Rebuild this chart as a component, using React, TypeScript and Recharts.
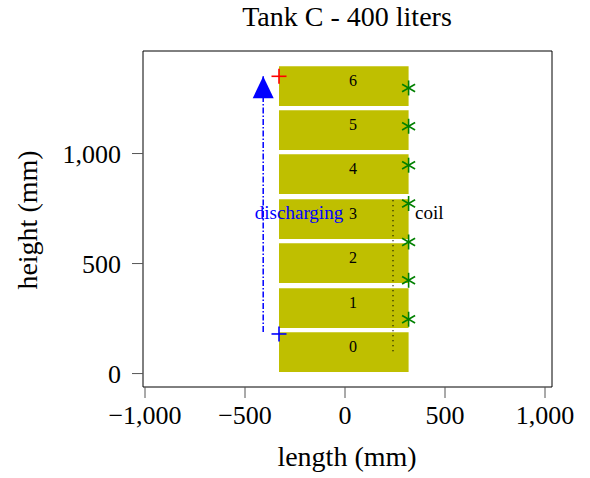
import React from 'react';
import { ComposedChart, XAxis, YAxis, ReferenceArea, ReferenceLine, Scatter, Line, Label } from 'recharts';

const FONT = '"Liberation Serif", "DejaVu Serif", serif';

// tank layers (mm)
const layerNames = ['0', '1', '2', '3', '4', '5', '6'];
const layerBottom = [7, 207, 412, 612, 816, 1016, 1216];
const layerTop = [188, 388, 592, 792, 997, 1197, 1397];
const layerLeft = -330;
const layerRight = 318;
const layerLabelX = 40;

// temperature sensors along the wall
const sensorX = 318;
const sensorY = [247, 424, 598, 773, 947, 1124, 1298];

// coil
const coilX = 240;
const coilY = [101, 806];

// ports
const outletPort = { x: -330, y: 1351 };
const inletPort = { x: -330, y: 180 };

// discharging arrow
const dischargeX = -409;
const dischargeY = [189, 1351];

// annotations
const notes = [
  { x: -230, y: 728, text: 'discharging', color: '#0000ff', anchor: 'middle' },
  { x: 350, y: 728, text: 'coil', color: '#000000', anchor: 'start' },
];

const xTicks = [-1000, -500, 0, 500, 1000];
const yTicks = [0, 500, 1000];
const xDomain = [-1010, 1035];
const yDomain = [-61, 1466];

const fmt = (v: number) => (v < 0 ? '\u2212' : '') + Math.abs(v).toLocaleString('en-US');

const layerLabels = layerNames.map((name, i) => ({
  x: layerLabelX,
  y: (layerBottom[i] + layerTop[i]) / 2,
  name,
}));
const sensors = sensorY.map(y => ({ x: sensorX, y }));
const dischargeLine = dischargeY.map(y => ({ x: dischargeX, y }));
const arrowTip = [{ x: dischargeX, y: dischargeY[1] }];

function Asterisk(props: any) {
  const { cx, cy } = props;
  const r = 7.5;
  const dx = r * Math.cos(Math.PI / 6);
  const dy = r * Math.sin(Math.PI / 6);
  return (
    <g stroke="#008000" strokeWidth={1.6}>
      <line x1={cx} y1={cy - r} x2={cx} y2={cy + r} />
      <line x1={cx - dx} y1={cy - dy} x2={cx + dx} y2={cy + dy} />
      <line x1={cx - dx} y1={cy + dy} x2={cx + dx} y2={cy - dy} />
    </g>
  );
}

const plus = (color: string) => (props: any) => {
  const { cx, cy } = props;
  const r = 7.5;
  return (
    <g stroke={color} strokeWidth={1.6}>
      <line x1={cx - r} y1={cy} x2={cx + r} y2={cy} />
      <line x1={cx} y1={cy - r} x2={cx} y2={cy + r} />
    </g>
  );
};

function ArrowHead(props: any) {
  const { cx, cy } = props;
  return <path d={`M${cx},${cy} L${cx - 10.5},${cy + 22} L${cx + 10.5},${cy + 22} Z`} fill="#0000ff" />;
}

function LayerText(props: any) {
  const { cx, cy, payload } = props;
  return (
    <text x={cx} y={cy} textAnchor="middle" fontFamily={FONT} fontSize={16} fill="#000">
      {payload.name}
    </text>
  );
}

function NoteText(props: any) {
  const { cx, cy, payload } = props;
  return (
    <text x={cx} y={cy} dy={6} textAnchor={payload.anchor} fontFamily={FONT} fontSize={19} fill={payload.color}>
      {payload.text}
    </text>
  );
}

export default function App() {
  const tickStyle = { fill: '#000', fontSize: 26, fontFamily: FONT };
  return (
    <div style={{ position: 'absolute', left: 0, top: 0, width: 590, height: 478 }}>
      <ComposedChart width={590} height={478} margin={{ top: 0, right: 0, bottom: 0, left: 0 }}>
        <XAxis
          xAxisId="b"
          dataKey="x"
          type="number"
          domain={xDomain}
          ticks={xTicks}
          interval={0}
          allowDataOverflow
          height={91}
          tickSize={11}
          tickMargin={8}
          tickFormatter={fmt}
          tick={tickStyle}
          axisLine={{ stroke: '#000' }}
          tickLine={{ stroke: '#555' }}
        >
          <Label
            content={() => (
              <text x={347} y={466} textAnchor="middle" fontFamily={FONT} fontSize={28} fill="#000">
                length (mm)
              </text>
            )}
          />
        </XAxis>
        <XAxis
          xAxisId="t"
          orientation="top"
          dataKey="x"
          type="number"
          domain={xDomain}
          ticks={xTicks}
          interval={0}
          allowDataOverflow
          height={51}
          tickSize={11}
          tick={false}
          axisLine={{ stroke: '#000' }}
          tickLine={{ stroke: '#555' }}
        >
          <Label
            content={() => (
              <text x={347} y={26} textAnchor="middle" fontFamily={FONT} fontSize={28} fill="#000">
                Tank C - 400 liters
              </text>
            )}
          />
        </XAxis>
        <YAxis
          yAxisId="l"
          dataKey="y"
          type="number"
          domain={yDomain}
          ticks={yTicks}
          interval={0}
          allowDataOverflow
          width={143}
          tickSize={11}
          tickMargin={11}
          tickFormatter={fmt}
          tick={tickStyle}
          axisLine={{ stroke: '#000' }}
          tickLine={{ stroke: '#555' }}
        >
          <Label
            content={() => (
              <text
                x={0}
                y={0}
                transform="translate(37,220) rotate(-90)"
                textAnchor="middle"
                fontFamily={FONT}
                fontSize={28}
                fill="#000"
              >
                height (mm)
              </text>
            )}
          />
        </YAxis>
        <YAxis
          yAxisId="r"
          orientation="right"
          dataKey="y"
          type="number"
          domain={yDomain}
          ticks={yTicks}
          interval={0}
          allowDataOverflow
          width={38}
          tickSize={11}
          tick={false}
          axisLine={{ stroke: '#000' }}
          tickLine={{ stroke: '#555' }}
        />

        {layerNames.map((n, i) => (
          <ReferenceArea
            key={n}
            xAxisId="b"
            yAxisId="l"
            x1={layerLeft}
            x2={layerRight}
            y1={layerBottom[i]}
            y2={layerTop[i]}
            fill="#bfbf00"
            fillOpacity={1}
            stroke="none"
          />
        ))}

        <ReferenceLine
          xAxisId="b"
          yAxisId="l"
          segment={[{ x: coilX, y: coilY[0] }, { x: coilX, y: coilY[1] }]}
          stroke="#000"
          strokeWidth={1.3}
          strokeDasharray="1 4"
        />

        <Line
          xAxisId="b"
          yAxisId="l"
          data={dischargeLine}
          dataKey="y"
          stroke="#0000ff"
          strokeWidth={1.5}
          strokeDasharray="6 2 1.5 2"
          dot={false}
          activeDot={false}
          isAnimationActive={false}
        />
        <Scatter xAxisId="b" yAxisId="l" data={arrowTip} dataKey="y" shape={ArrowHead} isAnimationActive={false} />

        <Scatter xAxisId="b" yAxisId="l" data={layerLabels} dataKey="y" shape={LayerText} isAnimationActive={false} />
        <Scatter xAxisId="b" yAxisId="l" data={notes} dataKey="y" shape={NoteText} isAnimationActive={false} />
        <Scatter xAxisId="b" yAxisId="l" data={sensors} dataKey="y" shape={Asterisk} isAnimationActive={false} />
        <Scatter xAxisId="b" yAxisId="l" data={[outletPort]} dataKey="y" shape={plus('#ff0000')} isAnimationActive={false} />
        <Scatter xAxisId="b" yAxisId="l" data={[inletPort]} dataKey="y" shape={plus('#0000ff')} isAnimationActive={false} />
      </ComposedChart>
    </div>
  );
}
